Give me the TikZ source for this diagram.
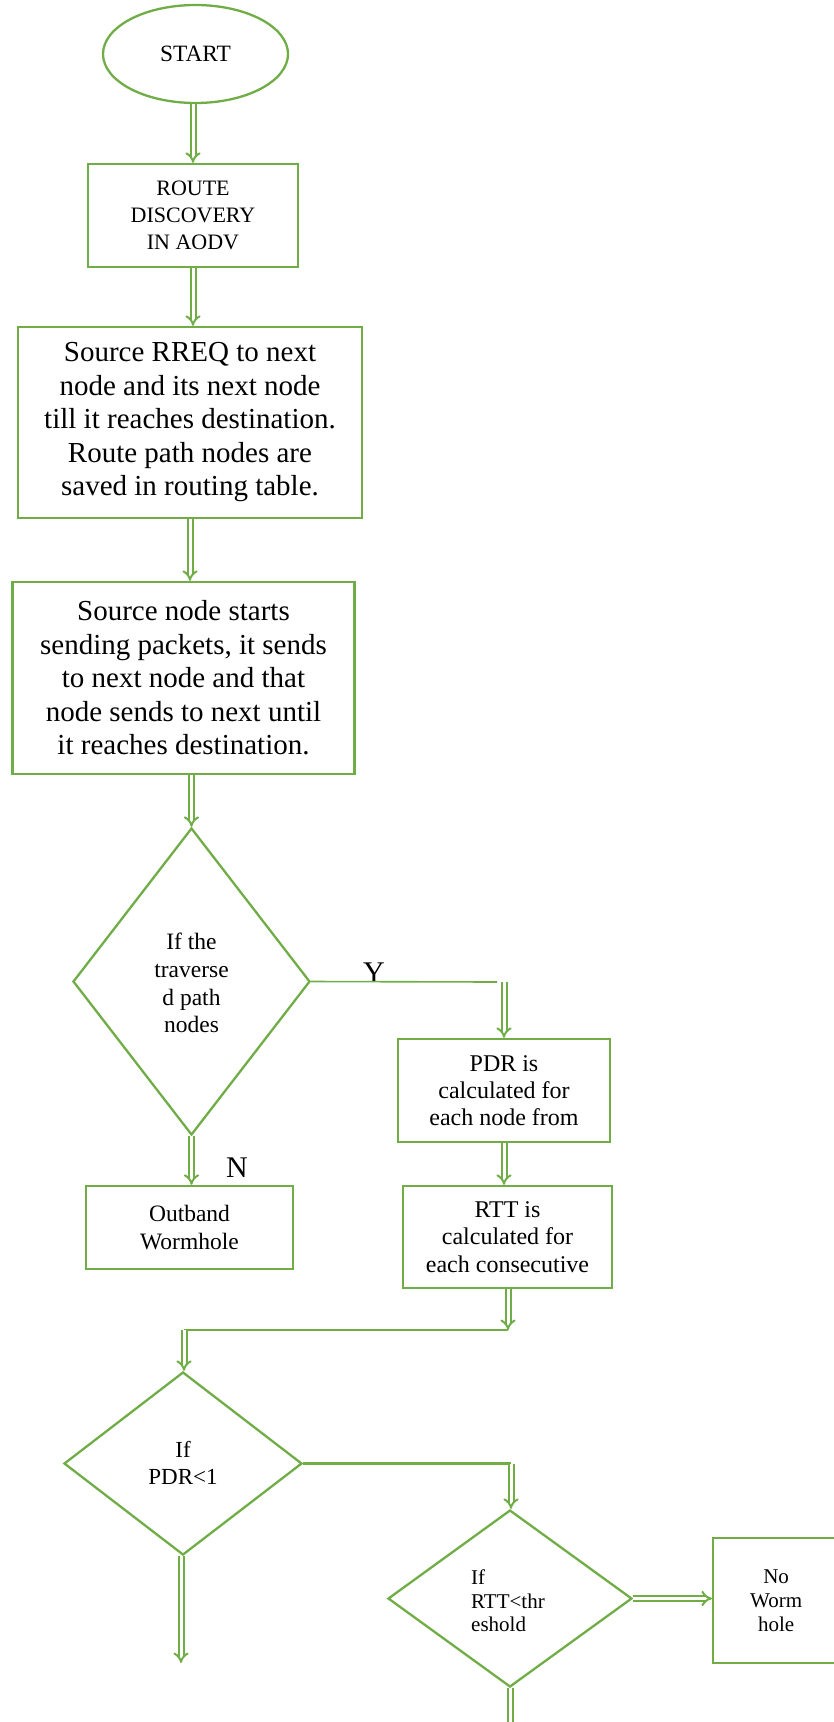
\documentclass[tikz,border=0pt]{standalone}
\usepackage{fontspec}
\setmainfont{Liberation Serif}
\usetikzlibrary{arrows.meta,shapes.geometric}
\definecolor{fg}{RGB}{112,173,71}
\begin{document}
\begin{tikzpicture}[x=1pt,y=-1pt,
  shapeline/.style={draw=fg, line width=2.3pt},
  boxnode/.style={shapeline, rectangle, align=center, inner sep=0pt},
  decision/.style={shapeline, diamond, aspect=1, inner sep=0pt},
  txt/.style={align=center, inner sep=0pt},
  darrow/.style={draw=fg, line width=2pt, double=white, double distance=3pt, -{Implies}},
  sline/.style={draw=fg, line width=2.2pt},
  thinline/.style={draw=fg, line width=1.6pt},
  lbl/.style={font=\fontsize{30}{34}\selectfont, inner sep=0pt, anchor=base}
]
\useasboundingbox (0,0) rectangle (833,1722);

\node[shapeline, ellipse, minimum width=185pt, minimum height=98pt, inner sep=0pt,
      font=\fontsize{23.4}{27}\selectfont] (start) at (195.5,54) {START};
\node[boxnode, minimum width=210pt, minimum height=103pt, font=\fontsize{22}{26.7}\selectfont]
  (route) at (193,215.5) {ROUTE\\DISCOVERY\\IN AODV};
\node[boxnode, minimum width=344pt, minimum height=191pt, font=\fontsize{29}{33.5}\selectfont] (rreq) at (190,422.5)
  {Source RREQ to next\\node and its next node\\till it reaches destination.\\Route path nodes are\\saved in routing table.};
\node[boxnode, minimum width=342pt, minimum height=192pt, font=\fontsize{29}{33.5}\selectfont] (send) at (183.5,678)
  {Source node starts\\sending packets, it sends\\to next node and that\\node sends to next until\\it reaches destination.};
\node[decision, minimum width=237pt, minimum height=307pt] (d1) at (191.5,981.5) {};
\node[txt, font=\fontsize{23.5}{27.7}\selectfont] (d1t) at (191.5,983) {If the\\traverse\\d path\\nodes};

\node[boxnode, minimum width=212pt, minimum height=103pt, font=\fontsize{24}{27}\selectfont]
  (pdr) at (504,1090.5) {PDR is\\calculated for\\each node from};
\node[boxnode, minimum width=209pt, minimum height=102pt, font=\fontsize{24}{27.5}\selectfont]
  (rtt) at (507.5,1237) {RTT is\\calculated for\\each consecutive};
\node[boxnode, minimum width=207pt, minimum height=83pt, font=\fontsize{23.5}{28}\selectfont]
  (outb) at (189.5,1227.5) {Outband\\Wormhole};

\node[decision, minimum width=238pt, minimum height=183pt] (d2) at (183,1463.5) {};
\node[txt, font=\fontsize{23}{27.7}\selectfont] (d2t) at (183,1463) {If\\PDR<1};
\node[decision, minimum width=244pt, minimum height=177pt] (d3) at (510,1598.5) {};
\node[align=left, inner sep=0pt, font=\fontsize{21}{23.6}\selectfont] (d3t) at (508,1601) {If\\RTT<thr\\eshold};

\node[boxnode, minimum width=126pt, minimum height=125pt, anchor=west, font=\fontsize{21}{24}\selectfont]
  (nowh) at (712,1600.5) {No\\Worm\\hole};

\node[lbl] (ylab) at (374,982) {Y};
\node[lbl] (nlab) at (237,1177) {N};

\coordinate (c1) at (497,982);
\coordinate (c1b) at (504,982);
\coordinate (j1) at (508,1330);
\coordinate (j2) at (184,1330);
\coordinate (j3) at (511,1463.5);
\coordinate (e1) at (181,1663);
\coordinate (e2) at (510,1740);

\draw[darrow] (start.south -| route.north) -- (route.north);
\draw[darrow] (route.south) -- (route.south |- rreq.north);
\draw[darrow] (rreq.south) -- (rreq.south |- send.north);
\draw[darrow] (send.south -| d1.north) -- (d1.north);
\draw[thinline] (d1.east) -- (c1);
\draw[darrow] (c1b) -- (c1b |- pdr.north);
\draw[darrow] (d1.south) -- (d1.south |- outb.north);
\draw[darrow] (pdr.south) -- (pdr.south |- rtt.north);
\draw[darrow] (rtt.south -| j1) -- (j1);
\draw[sline] (j1) -- (j2);
\draw[darrow] (j2) -- (j2 |- d2.north);
\draw[sline] (d2.east) -- (j3);
\draw[darrow] (j3) -- (j3 |- d3.north);
\draw[darrow] (d2.south -| e1) -- (e1);
\draw[darrow] (d3.east) -- (d3.east -| nowh.west);
\draw[darrow] (d3.south) -- (e2);
\end{tikzpicture}
\end{document}
